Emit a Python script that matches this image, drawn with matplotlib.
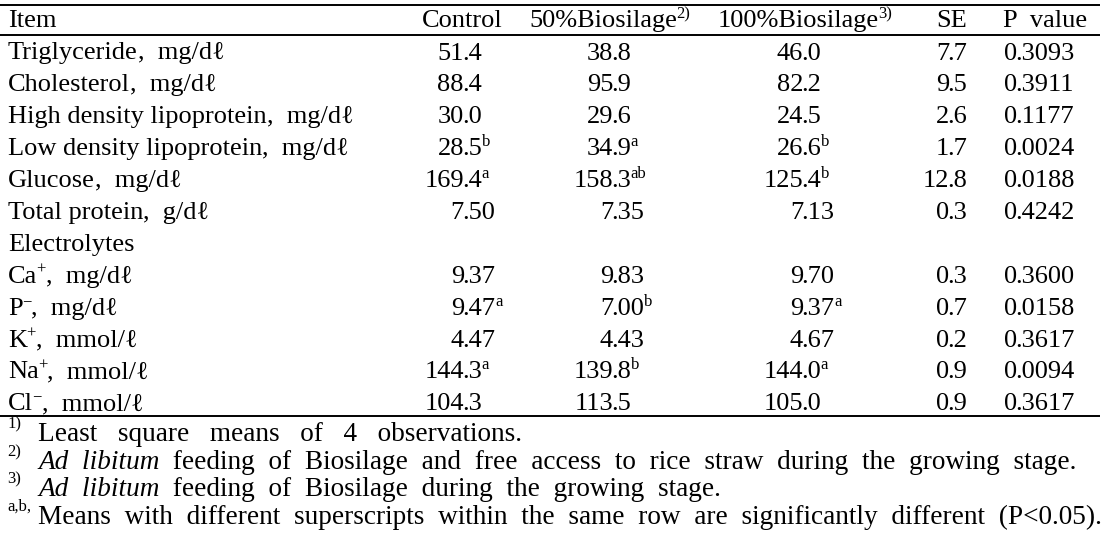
import matplotlib.pyplot as plt

# Dati della tabella
items = ["Triglyceride", "Cholesterol", "High density lipoprotein", "Low density lipoprotein",
         "Glucose", "Total protein", "Electrolytes", "Ca", "P", "K", "Na", "Cl"]
charges = ["", "", "", "", "", "", "", "+", "\u2212", "+", "+", "\u2212"]
units = ["mg/d\u2113", "mg/d\u2113", "mg/d\u2113", "mg/d\u2113", "mg/d\u2113", "g/d\u2113", "",
         "mg/d\u2113", "mg/d\u2113", "mmol/\u2113", "mmol/\u2113", "mmol/\u2113"]

control = ["51.4", "88.4", "30.0", "28.5", "169.4", "7.50", "", "9.37", "9.47", "4.47", "144.3", "104.3"]
control_sup = ["", "", "", "b", "a", "", "", "", "a", "", "a", ""]
bio50 = ["38.8", "95.9", "29.6", "34.9", "158.3", "7.35", "", "9.83", "7.00", "4.43", "139.8", "113.5"]
bio50_sup = ["", "", "", "a", "ab", "", "", "", "b", "", "b", ""]
bio100 = ["46.0", "82.2", "24.5", "26.6", "125.4", "7.13", "", "9.70", "9.37", "4.67", "144.0", "105.0"]
bio100_sup = ["", "", "", "b", "b", "", "", "", "a", "", "a", ""]
se = ["7.7", "9.5", "2.6", "1.7", "12.8", "0.3", "", "0.3", "0.7", "0.2", "0.9", "0.9"]
p_value = ["0.3093", "0.3911", "0.1177", "0.0024", "0.0188", "0.4242", "", "0.3600", "0.0158",
           "0.3617", "0.0094", "0.3617"]

headers = ["Control", "50%Biosilage", "100%Biosilage", "SE", "P  value"]
header_sup = ["", "2)", "3)", "", ""]

footnote_marks = ["1)", "2)", "3)", "a,b,"]
footnotes = [
    [("Least   square   means   of   4   observations.", "n")],
    [("Ad  libitum", "i"), ("  feeding  of  Biosilage  and  free  access  to  rice  straw  during  the  growing  stage.", "n")],
    [("Ad  libitum", "i"), ("  feeding  of  Biosilage  during  the  growing  stage.", "n")],
    [("Means  with  different  superscripts  within  the  same  row  are  significantly  different  (P<0.05).", "n")],
]

# Impostazioni grafiche
FAMIGLIA = ["Liberation Serif", "DejaVu Serif"]
FS = 19
FS_NOTE = 19.6
FS_SUP = 12
header_x = [462, 603, 798, 952, 1045]
dec_x = [464, 613, 803, 949, 1017]
riga_h = 31.9
base0 = 59.5

fig = plt.figure(figsize=(11.1, 5.39), dpi=100)
ax = fig.add_axes([0, 0, 1, 1])
ax.set_xlim(0, 1110)
ax.set_ylim(539, 0)
ax.axis("off")


def testo(x, y, parti, ha="left", fs=FS):
    # Disegna un testo composto da parti (normale, apice, corsivo, decimali)
    s0, k0 = parti[0]
    prev = ax.text(x, y, s0, ha=ha, va="baseline", fontsize=fs, family=FAMIGLIA,
                   style="italic" if k0 == "i" else "normal")
    for s, k in parti[1:]:
        if k == "s":
            prev = ax.annotate(s, xy=(1, y), xycoords=(prev, "data"), xytext=(-0.5, 6.5),
                               textcoords="offset points", va="baseline", ha="left",
                               fontsize=FS_SUP, family=FAMIGLIA)
        else:
            dx = -1.0 if k == "d" else 0
            prev = ax.annotate(s, xy=(1, y), xycoords=(prev, "data"), xytext=(dx, 0),
                               textcoords="offset points", va="baseline", ha="left",
                               fontsize=fs, family=FAMIGLIA,
                               style="italic" if k == "i" else "normal")
    return prev


# Linee orizzontali
for y in [5, 35, 416]:
    ax.plot([0, 1100], [y, y], color="black", lw=1.4, solid_capstyle="butt")

# Intestazione
testo(8, 27, [("Item", "n")])
for x, h, hs in zip(header_x, headers, header_sup):
    parti = [(h, "n")]
    if hs:
        parti.append((hs, "s"))
    testo(x, 27, parti, ha="center")

# Righe
colonne = [(control, control_sup), (bio50, bio50_sup), (bio100, bio100_sup),
           (se, [""] * len(se)), (p_value, [""] * len(p_value))]
for i, nome in enumerate(items):
    y = base0 + i * riga_h
    parti = [(nome, "n")]
    if charges[i]:
        parti.append((charges[i], "s"))
    if units[i]:
        parti.append((",  " + units[i], "n"))
    testo(8, y, parti)
    for x, (vals, sups) in zip(dec_x, colonne):
        if vals[i] == "":
            continue
        intero, dec = vals[i].split(".")
        # allineamento sul punto decimale
        parti = [(intero, "n"), ("." + dec, "d")]
        if sups[i]:
            parti.append((sups[i], "s"))
        testo(x, y, parti, ha="right")

# Note
note_base = [441, 469, 496, 524]
for y, m, parti in zip(note_base, footnote_marks, footnotes):
    ax.text(7, y - 13, m, ha="left", va="baseline", fontsize=FS_SUP, family=FAMIGLIA)
    testo(38, y, parti, fs=FS_NOTE)

fig.savefig("out.png", dpi=100)
